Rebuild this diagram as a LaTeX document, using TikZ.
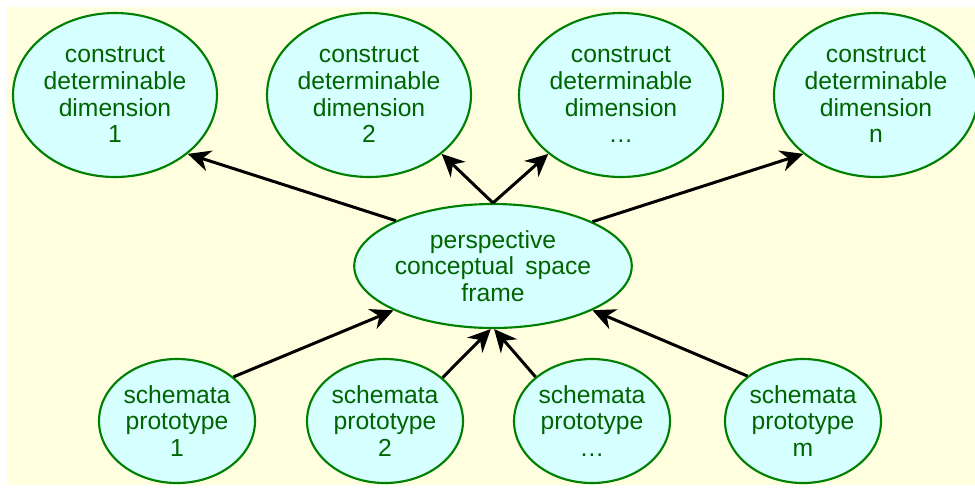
\documentclass[tikz,border=0pt]{standalone}
\usepackage{fontspec}
\setmainfont{Liberation Sans}
\usetikzlibrary{arrows.meta,shapes.geometric}
\definecolor{bgyellow}{RGB}{255,255,224}
\definecolor{ellfill}{RGB}{214,255,255}
\definecolor{ellborder}{RGB}{0,128,0}
\definecolor{elltext}{RGB}{0,100,0}
\tikzset{
  ell/.style={ellipse, draw=ellborder, fill=ellfill, line width=1.6pt, inner sep=0pt,
    text=elltext, align=center, font=\fontsize{18.5}{20}\selectfont},
  dimell/.style={ell, minimum width=153pt, minimum height=123pt},
  protoell/.style={ell, minimum width=117pt, minimum height=93pt},
  centerell/.style={ell, minimum width=204pt, minimum height=93pt},
  arr/.style={line width=2.25pt, -{Stealth[length=17pt, width=16pt, inset=5.5pt]}}
}
\begin{document}
\begin{tikzpicture}[x=0.75pt, y=-0.75pt]
\useasboundingbox (0,0) rectangle (975,487);
\fill[bgyellow] (7,7) rectangle (975,485);

\node[dimell] (d1) at (115,95) {construct\\determinable\\dimension\\1};
\node[dimell] (d2) at (369,95) {construct\\determinable\\dimension\\2};
\node[dimell] (d3) at (621,95) {construct\\determinable\\dimension\\\dots};
\node[dimell] (dn) at (876,95) {construct\\determinable\\dimension\\n};

\node[centerell] (c) at (493,266) {perspective\\conceptual\hspace{0.45em}space\\frame};

\node[protoell] (b1) at (177,421) {schemata\\prototype\\1};
\node[protoell] (b2) at (385,421) {schemata\\prototype\\2};
\node[protoell] (b3) at (592,421) {schemata\\prototype\\\dots};
\node[protoell] (bm) at (803,421) {schemata\\prototype\\m};

\draw[arr] (c.155.6) -- (d1.321.5);
\draw[arr] (c.north) -- (d2.321.5);
\draw[arr] (c.north) -- (d3.219);
\draw[arr] (c.24) -- (dn.219);

\draw[arr] (b1.38) -- (c.204.6);
\draw[arr] (b2.37.7) -- (c.268);
\draw[arr] (b3.142.3) -- (c.271);
\draw[arr] (bm.141.8) -- (c.336);
\end{tikzpicture}
\end{document}
